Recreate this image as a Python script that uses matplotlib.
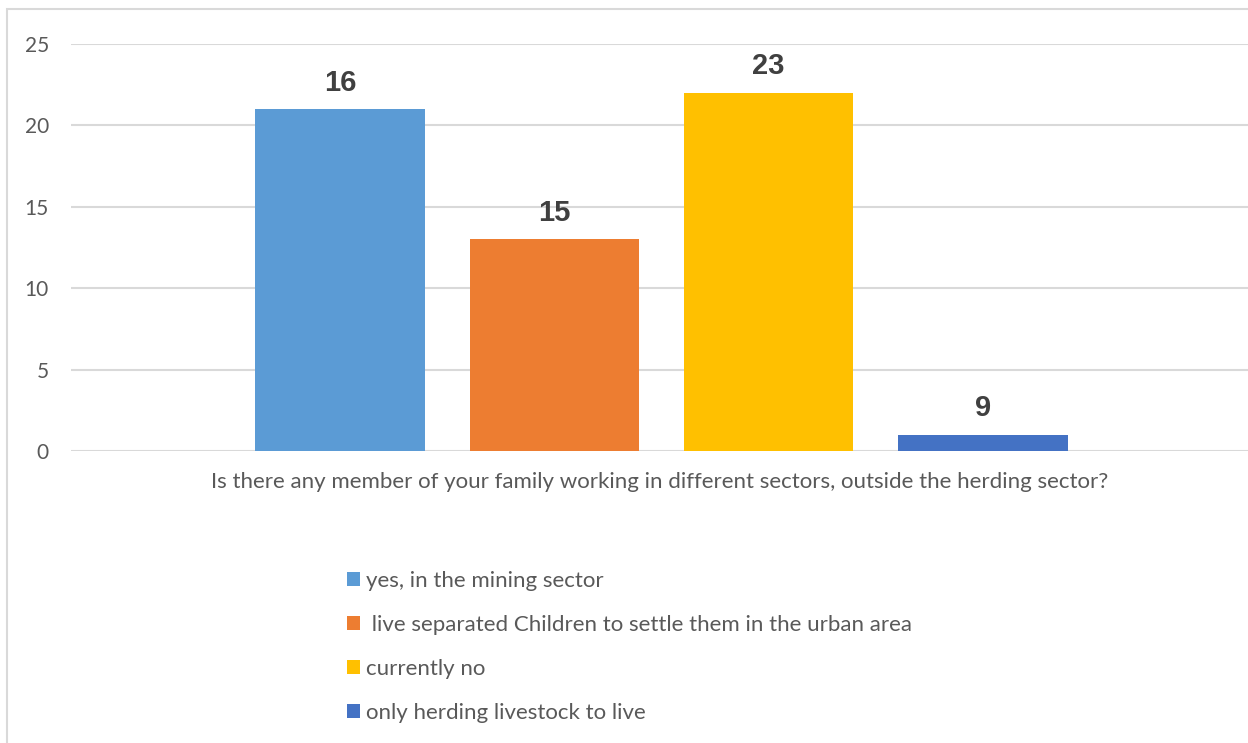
import matplotlib
import matplotlib.pyplot as plt
from matplotlib.patches import Rectangle

matplotlib.use("Agg")

# Survey answers, bar heights and the counts printed above each bar
answers = ["yes, in the mining sector",
           " live separated Children to settle them in the urban area",
           "currently no",
           "only herding livestock to live"]
barHeights = [21, 13, 22, 1]
countLabels = ["16", "15", "23", "9"]
barColors = ["#5b9bd5", "#ed7d31", "#ffc000", "#4472c4"]
yTicks = [0, 5, 10, 15, 20, 25]
question = "Is there any member of your family working in different sectors, outside the herding sector?"

textGrey = "#595959"
gridGrey = "#d9d9d9"

fig = plt.figure(figsize=(12.48, 7.43), dpi=100)
ax = fig.add_axes([0.0569, 0.393, 0.9431, 0.5478])

positions = list(range(len(answers)))
bars = ax.bar(positions, barHeights, width=0.79, color=barColors, zorder=3)

# Bold counts above the bars
for bar, text in zip(bars, countLabels):
  ax.annotate(text, (bar.get_x() + bar.get_width() / 2, bar.get_height()),
              xytext=(0, 9), textcoords="offset points", ha="center", va="bottom",
              fontsize=21, fontweight="bold", color="#404040", family="Liberation Sans")

ax.set_xlim(-1.255, 4.237)
ax.set_ylim(0, 25)
ax.set_yticks(yTicks)
ax.set_xticks([])
ax.yaxis.grid(True, color=gridGrey, linewidth=1.5, zorder=0)
ax.tick_params(axis="y", length=0, pad=16, labelsize=15, labelcolor=textGrey)
for label in ax.get_yticklabels():
  label.set_family("Lato")
for side in ["top", "right", "left", "bottom"]:
  ax.spines[side].set_visible(False)
ax.set_xlabel(question, fontsize=16, color=textGrey, family="Lato", labelpad=15)

# Legend stacked below the chart
leg = fig.legend(bars, answers, loc="upper left", bbox_to_anchor=(0.262, 0.259),
                 frameon=False, ncol=1, handlelength=0.6, handleheight=0.6,
                 handletextpad=0.25, labelspacing=1.08,
                 prop={"family": "Lato", "size": 16})
for text in leg.get_texts():
  text.set_color(textGrey)

# Chart area border
fig.patches.append(Rectangle((7 / 1248, -0.1), 1.2, 1.1 - 9 / 743, transform=fig.transFigure,
                             fill=False, edgecolor=gridGrey, linewidth=1.5))

fig.savefig("out.png", dpi=100)
